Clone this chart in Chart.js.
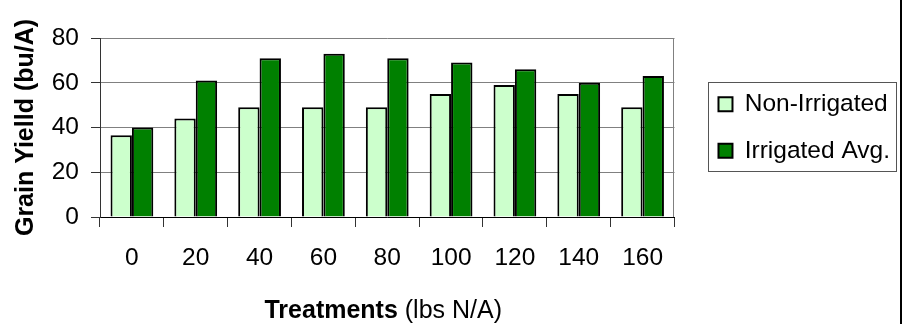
<!DOCTYPE html>
<html>
<head>
<meta charset="utf-8">
<script src="https://cdn.jsdelivr.net/npm/chart.js@4"></script>
<style>
  html, body { margin: 0; padding: 0; background: #fff; }
  .wrap { width: 902px; height: 324px; box-sizing: border-box; border-right: 2px solid #000; position: relative; }
</style>
</head>
<body>
<div class="wrap"><canvas id="chart"></canvas></div>
<script>
const treatments = ['0', '20', '40', '60', '80', '100', '120', '140', '160'];
const nonIrrigated = [36.5, 44, 49, 49, 49, 55, 59, 55, 49];
const irrigatedAvg = [40, 61, 71, 73, 71, 69, 66, 60, 63];
const yTicks = [0, 20, 40, 60, 80];

const FONT = "'Liberation Sans', Arial, sans-serif";
const FS = 24.5;
const LEGEND_SHIFT = 22; // extra gap between plot and legend

// frame on the right of the plot, legend border, and the mixed-weight x title
const extras = {
    id: 'extras',
    afterLayout(chart) {
        const lg = chart.legend;
        if (lg) {
            lg.left += LEGEND_SHIFT;
            lg.right += LEGEND_SHIFT;
        }
    },
    beforeDatasetsDraw(chart) {
        const { ctx, chartArea } = chart;
        ctx.save();
        ctx.strokeStyle = '#808080';
        ctx.lineWidth = 1;
        ctx.beginPath();
        ctx.moveTo(Math.round(chartArea.right) - 0.5, chartArea.top);
        ctx.lineTo(Math.round(chartArea.right) - 0.5, chartArea.bottom);
        ctx.stroke();
        ctx.restore();
    },
    afterDraw(chart) {
        const { ctx, chartArea } = chart;
        const boxes = chart.legend.legendHitBoxes;
        if (boxes && boxes.length) {
            const l = Math.min(...boxes.map(b => b.left)) - 10;
            const r = Math.max(...boxes.map(b => b.left + b.width)) + 6;
            const t = Math.min(...boxes.map(b => b.top)) - 10;
            const btm = Math.max(...boxes.map(b => b.top + b.height)) + 8;
            ctx.save();
            ctx.strokeStyle = '#555';
            ctx.lineWidth = 1;
            ctx.strokeRect(Math.round(l) + 0.5, Math.round(t) + 0.5, Math.round(r - l), Math.round(btm - t));
            ctx.restore();
        }
        ctx.save();
        const bold = 'bold 25px ' + FONT;
        const reg = '25px ' + FONT;
        const p1 = 'Treatments', p2 = ' (lbs N/A)';
        ctx.font = bold; const w1 = ctx.measureText(p1).width;
        ctx.font = reg; const w2 = ctx.measureText(p2).width;
        const x0 = (chartArea.left + chartArea.right) / 2 - 4 - (w1 + w2) / 2;
        const y = 318;
        ctx.fillStyle = '#000';
        ctx.textBaseline = 'alphabetic';
        ctx.font = bold; ctx.fillText(p1, x0, y);
        ctx.font = reg; ctx.fillText(p2, x0 + w1, y);
        ctx.restore();
    }
};

new Chart(document.getElementById('chart'), {
    type: 'bar',
    data: {
        labels: treatments,
        datasets: [{
            label: 'Non-Irrigated',
            data: nonIrrigated,
            backgroundColor: '#CCFFCC',
            borderColor: '#000',
            borderWidth: 2
        }, {
            label: 'Irrigated Avg.',
            data: irrigatedAvg,
            backgroundColor: '#008000',
            borderColor: '#000',
            borderWidth: 2
        }]
    },
    options: {
        responsive: true,
        maintainAspectRatio: false,
        animation: false,
        categoryPercentage: 0.67,
        barPercentage: 1.0,
        layout: { padding: { top: 38, left: 0, right: 22, bottom: 0 } },
        plugins: {
            tooltip: { enabled: false },
            legend: {
                position: 'right',
                fullSize: false,
                labels: {
                    color: '#000',
                    font: { family: FONT, size: FS },
                    boxWidth: 14,
                    boxHeight: 14,
                    padding: 22
                }
            }
        },
        scales: {
            x: {
                grid: {
                    display: true,
                    drawOnChartArea: false,
                    drawTicks: true,
                    tickLength: 10,
                    offset: true,
                    tickColor: '#333'
                },
                border: { display: true, color: '#000', width: 1 },
                ticks: {
                    color: '#000',
                    font: { family: FONT, size: FS },
                    padding: 17,
                    maxRotation: 0
                },
                afterFit(scale) { scale.height = 107; }
            },
            y: {
                min: 0,
                max: 80,
                afterBuildTicks(scale) { scale.ticks = yTicks.map(v => ({ value: v })); },
                grid: {
                    color: '#808080',
                    tickColor: '#333',
                    tickLength: 9,
                    drawTicks: true
                },
                border: { display: true, color: '#333', width: 1 },
                ticks: {
                    color: '#000',
                    font: { family: FONT, size: FS },
                    padding: 12
                },
                title: {
                    display: true,
                    text: 'Grain Yielld (bu/A)',
                    color: '#000',
                    font: { family: FONT, size: 25, weight: 'bold' },
                    padding: { top: 11, bottom: 0 }
                },
                afterFit(scale) { scale.width = 100; }
            }
        }
    },
    plugins: [extras]
});
</script>
</body>
</html>
